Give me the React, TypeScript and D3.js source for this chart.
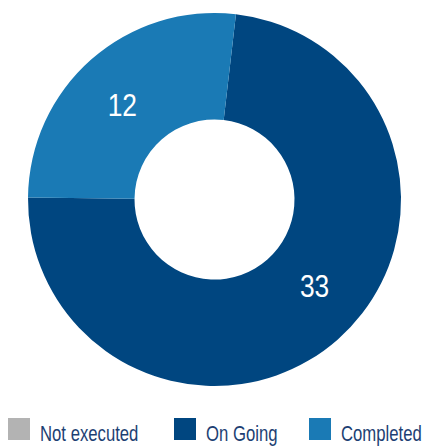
import React from "react";
import * as d3 from "d3";

const categories = ["Not executed", "On Going", "Completed"];
const values = [0, 33, 12];
const colors = ["#b3b3b3", "#004680", "#1a7ab5"];

const W = 425;
const H = 446;
const cx = 214.5;
const cy = 199.5;
const outerR = 186.5;
const innerR = 80;
const startDeg = 6.6;
const labelR = 132;
const labelFrac = 0.47;

export default function App() {
  const data = categories.map((c, i) => ({ name: c, value: values[i], color: colors[i] }));
  const pie = d3
    .pie<any>()
    .value((d) => d.value)
    .sort(null)
    .startAngle((startDeg * Math.PI) / 180)
    .endAngle(((startDeg + 360) * Math.PI) / 180);
  const arcs = pie(data);
  const arc = d3.arc<any>().innerRadius(innerR).outerRadius(outerR);

  const legendX = d3.scaleOrdinal<string, number>().domain(categories).range([8, 174, 309]);

  return (
    <svg
      width={W}
      height={H}
      style={{ position: "absolute", left: 0, top: 0, background: "#fff" }}
      fontFamily="'Liberation Sans', Arial, sans-serif"
    >
      <g transform={`translate(${cx},${cy})`}>
        {arcs.map((a, i) =>
          a.value > 0 ? <path key={i} d={arc(a) || ""} fill={a.data.color} /> : null
        )}
        {arcs.map((a, i) => {
          if (a.value <= 0) return null;
          const ang = a.startAngle + (a.endAngle - a.startAngle) * labelFrac;
          const x = labelR * Math.sin(ang);
          const y = -labelR * Math.cos(ang);
          return (
            <text
              key={"l" + i}
              transform={`translate(${x},${y}) scale(0.85,1)`}
              dy="0.36em"
              textAnchor="middle"
              fill="#fff"
              fontSize={31}
            >
              {a.value}
            </text>
          );
        })}
      </g>
      {categories.map((c, i) => (
        <g key={c} transform={`translate(${legendX(c)},418)`}>
          <rect x={0} y={0} width={22} height={22} fill={colors[i]} />
          <text transform="translate(32,23) scale(0.76,1)" fontSize={22} fill="#1d3f73">
            {c}
          </text>
        </g>
      ))}
    </svg>
  );
}
